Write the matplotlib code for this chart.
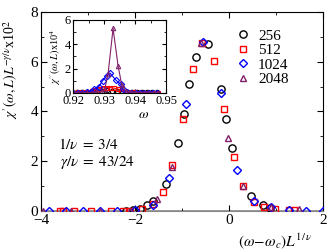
import matplotlib
matplotlib.use("Agg")
import matplotlib.pyplot as plt
from matplotlib.ticker import MultipleLocator, FormatStrFormatter

plt.rcParams['font.family'] = ['Liberation Serif', 'DejaVu Serif']
plt.rcParams['mathtext.fontset'] = 'stix'

# ---- main panel data: scaled x = (w - wc) L^{1/nu}, y = chi' L^{-gamma/nu} x 10^2
x256 = [-2.20, -2.05, -1.90, -1.75, -1.61, -1.33, -1.09, -0.96, -0.84, -0.71, -0.45,
        -0.18, -0.06, 0.06, 0.46, 0.72, 0.87]
y256 = [0.02, 0.05, 0.10, 0.24, 0.40, 1.07, 2.72, 3.90, 5.10, 6.17, 6.70,
        4.90, 3.70, 2.52, 0.60, 0.24, 0.13]

x512 = [-3.60, -3.53, -3.30, -2.94, -2.52, -2.26, -2.10, -1.86, -1.62, -1.41, -1.22,
        -0.97, -0.76, -0.58, -0.32, -0.11, 0.11, 0.30, 0.54, 0.75, 0.98, 1.28, 1.38]
y512 = [0.0, 0.0, 0.0, 0.0, 0.0, 0.0, 0.02, 0.10, 0.28, 0.78, 1.85,
        3.70, 5.70, 6.74, 6.04, 4.10, 2.16, 1.00, 0.38, 0.17, 0.10, 0.04, 0.03]

x1024 = [-3.82, -3.47, -3.11, -2.74, -2.38, -2.00, -1.62, -1.28, -0.91, -0.55, -0.18,
         0.17, 0.54, 0.90, 1.28, 1.65, 2.00]
y1024 = [0.0, 0.0, 0.0, 0.0, 0.0, 0.03, 0.24, 1.32, 4.30, 6.80, 4.76,
         1.65, 0.40, 0.15, 0.04, 0.02, 0.02]

x2048 = [-3.95, -3.37, -2.74, -2.10, -1.54, -1.22, -0.60, -0.01, 0.30, 0.90, 1.50]
y2048 = [0.0, 0.0, 0.0, 0.02, 0.50, 1.78, 6.74, 2.95, 1.00, 0.15, 0.08]

# ---- inset data: omega, chi'' x 10^4
w256 = [0.9198, 0.9214, 0.9230, 0.9246, 0.9262, 0.9278, 0.9294, 0.9310, 0.9326,
        0.9342, 0.9358, 0.9374, 0.9390, 0.9406, 0.9422, 0.9438, 0.9454, 0.9470]
c256 = [0.08, 0.09, 0.10, 0.11, 0.13, 0.16, 0.19, 0.21, 0.20, 0.17, 0.13, 0.10,
        0.08, 0.07, 0.06, 0.06, 0.05, 0.05]

w512 = [0.9200, 0.9215, 0.9230, 0.9245, 0.9260, 0.9272, 0.9284, 0.9296, 0.9308,
        0.9320, 0.9332, 0.9344, 0.9356, 0.9370, 0.9385, 0.9400, 0.9415, 0.9430,
        0.9445, 0.9460, 0.9475]
c512 = [0.04, 0.05, 0.06, 0.08, 0.14, 0.25, 0.35, 0.42, 0.45, 0.44, 0.40, 0.33,
        0.20, 0.10, 0.06, 0.05, 0.04, 0.04, 0.03, 0.03, 0.03]

w1024 = [0.9200, 0.9215, 0.9230, 0.9245, 0.9257, 0.9269, 0.9283, 0.9295, 0.9309,
         0.9319, 0.9337, 0.9353, 0.9360, 0.9374, 0.9388, 0.9402, 0.9416, 0.9430,
         0.9444, 0.9458, 0.9472]
c1024 = [0.02, 0.02, 0.03, 0.05, 0.12, 0.30, 0.53, 1.00, 1.42, 1.64, 1.08, 0.72,
         0.30, 0.08, 0.04, 0.03, 0.02, 0.02, 0.02, 0.02, 0.02]

w2048 = [0.9200, 0.9215, 0.9230, 0.9245, 0.9260, 0.9275, 0.9290, 0.9302, 0.9313,
         0.9329, 0.9345, 0.9357, 0.9370, 0.9385, 0.9400, 0.9415, 0.9430, 0.9445,
         0.9460, 0.9475]
c2048 = [0.02, 0.02, 0.02, 0.03, 0.04, 0.06, 0.10, 0.30, 1.60, 5.30, 2.25, 0.65,
         0.15, 0.06, 0.04, 0.03, 0.02, 0.02, 0.02, 0.02]

labels = ["256", "512", "1024", "2048"]
colors = ["black", "#ff0000", "#0000ff", "#80206a"]
markers = ["o", "s", "D", "^"]
msizes = [5.2, 4.6, 4.2, 5.0]

fig = plt.figure(figsize=(3.29, 2.52), dpi=100)
ax = fig.add_axes([0.1246, 0.1627, 0.857, 0.79])

ax.axhline(0, color="#888888", lw=1.2, zorder=1)
for xs, ys, c, m, ms, lab in zip([x256, x512, x1024, x2048], [y256, y512, y1024, y2048],
                                 colors, markers, msizes, labels):
    ax.plot(xs, ys, ls="none", marker=m, ms=ms, mfc="none", mec=c, mew=1.0,
            label=lab, zorder=3)

ax.set_xlim(-4, 2)
ax.set_ylim(0, 8)
ax.xaxis.set_major_locator(MultipleLocator(2))
ax.xaxis.set_minor_locator(MultipleLocator(1))
ax.yaxis.set_major_locator(MultipleLocator(2))
ax.yaxis.set_minor_locator(MultipleLocator(1))
ax.tick_params(which="both", direction="in", top=True, right=True, labelsize=11, pad=2)
ax.tick_params(which="major", length=4)
ax.tick_params(which="minor", length=2.5)
ax.spines["bottom"].set_color("#888888")

ax.set_ylabel(r"$\chi'(\omega,L)L^{-\gamma/\nu}$x10$^2$", fontsize=10, labelpad=1)
ax.yaxis.set_label_coords(-0.075, 0.71)
ax.set_xlabel(r"$(\omega\!-\!\omega_c)L^{1/\,\nu}$", fontsize=11)
ax.xaxis.set_label_coords(0.83, -0.1)

ax.text(0.062, 0.31, r"$1/\nu\;=\;3/4$", transform=ax.transAxes, fontsize=11)
ax.text(0.068, 0.225, r"$\gamma/\nu\;=\;43/24$", transform=ax.transAxes, fontsize=11)

leg = ax.legend(loc="upper right", bbox_to_anchor=(0.91, 0.96), frameon=False,
                fontsize=11, handlelength=1.0, handletextpad=0.5, labelspacing=0.05,
                borderaxespad=0.2)

# ---- inset
axi = fig.add_axes([0.222, 0.631, 0.283, 0.290])
for ws, cs, c, m in zip([w256, w512, w1024, w2048], [c256, c512, c1024, c2048],
                        colors, markers):
    axi.plot(ws, cs, color=c, lw=0.8, marker=m, ms=3.2, mfc="none", mec=c, mew=0.8)
axi.set_xlim(0.92, 0.95)
axi.set_ylim(0, 6)
axi.xaxis.set_major_locator(MultipleLocator(0.01))
axi.xaxis.set_minor_locator(MultipleLocator(0.005))
axi.yaxis.set_major_locator(MultipleLocator(2))
axi.yaxis.set_minor_locator(MultipleLocator(1))
axi.tick_params(which="both", direction="in", top=True, right=True, labelsize=9, pad=1.5)
axi.tick_params(which="major", length=3)
axi.tick_params(which="minor", length=1.8)
axi.xaxis.set_major_formatter(FormatStrFormatter("%.2f"))
axi.set_xlabel(r"$\omega$", fontsize=10, labelpad=0)
axi.xaxis.set_label_coords(0.76, -0.21)
axi.set_ylabel(r"$\chi''(\omega,L)$x10$^4$", fontsize=7.5, labelpad=1)

fig.savefig("out.png", dpi=100)
